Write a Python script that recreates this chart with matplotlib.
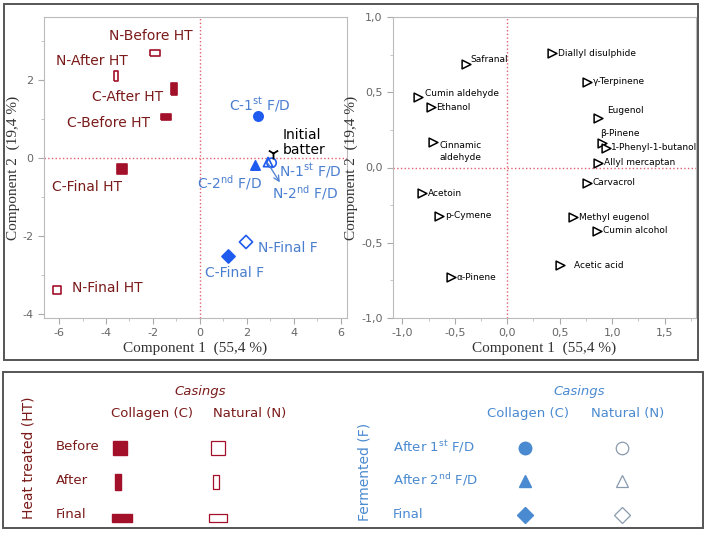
import matplotlib
matplotlib.use("Agg")
import matplotlib.pyplot as plt
from matplotlib.patches import Rectangle
from matplotlib.ticker import FuncFormatter, MultipleLocator

# ---- score plot data (Component 1 / Component 2) ----
ht_names = ["C-Before HT", "N-Before HT", "C-After HT", "N-After HT", "C-Final HT", "N-Final HT"]
ht_x = [-1.45, -1.91, -1.11, -3.57, -3.32, -6.09]
ht_y = [1.05, 2.69, 1.77, 2.10, -0.28, -3.38]

f_names = ["C-1st F/D", "N-1st F/D", "C-2nd F/D", "N-2nd F/D", "C-Final F", "N-Final F"]
f_x = [2.45, 3.05, 2.35, 2.90, 1.18, 1.96]
f_y = [1.08, -0.12, -0.18, -0.10, -2.51, -2.15]

batter_x = [3.10]
batter_y = [0.13]

# ---- loading plot data ----
compounds = ["Safranal", "Diallyl disulphide", "γ-Terpinene", "Cumin aldehyde", "Ethanol",
             "Eugenol", "β-Pinene", "1-Phenyl-1-butanol", "Cinnamic\naldehyde",
             "Allyl mercaptan", "Carvacrol", "Acetoin", "p-Cymene", "Methyl eugenol",
             "Cumin alcohol", "Acetic acid", "α-Pinene"]
load_x = [-0.39, 0.43, 0.76, -0.85, -0.73, 0.87, 0.90, 0.94, -0.71,
          0.87, 0.76, -0.81, -0.65, 0.63, 0.86, 0.50, -0.54]
load_y = [0.69, 0.76, 0.57, 0.47, 0.40, 0.33, 0.16, 0.13, 0.17,
          0.03, -0.10, -0.17, -0.32, -0.33, -0.42, -0.65, -0.73]

RED_TXT = "#7a1a1a"
RED = "#a3102a"
BLUE = "#1f5bef"
BLUE_TXT = "#4a7fd0"
LBLUE = "#4a8ad0"
LGREY = "#8a9aae"

wide = [(-1, -0.55), (1, -0.55), (1, 0.55), (-1, 0.55), (-1, -0.55)]
tall = [(-0.45, -1), (0.45, -1), (0.45, 1), (-0.45, 1), (-0.45, -1)]
flat = [(-1, -0.4), (1, -0.4), (1, 0.4), (-1, 0.4), (-1, -0.4)]

plt.rcParams["font.family"] = "DejaVu Sans"
plt.rcParams["mathtext.default"] = "regular"

fig = plt.figure(figsize=(7.09, 5.4), dpi=100)

# outer frames
fig.patches.append(Rectangle((4 / 709, 1 - 360 / 540), 694 / 709, 356 / 540, transform=fig.transFigure,
                             fill=False, edgecolor="#555555", linewidth=1.4))
fig.patches.append(Rectangle((3 / 709, 1 - 528 / 540), 700 / 709, 156 / 540, transform=fig.transFigure,
                             fill=False, edgecolor="#555555", linewidth=1.4))


def comma(v, pos, nd):
    return f"{v:.{nd}f}".replace(".", ",")


def style_axes(ax):
    for s in ax.spines.values():
        s.set_color("#bbbbbb")
    ax.tick_params(colors="#aaaaaa", labelcolor="#666666", labelsize=8, direction="out", length=4)
    ax.tick_params(which="minor", colors="#bbbbbb", length=2)
    ax.axhline(0, color="#e06070", linestyle=":", linewidth=1)
    ax.axvline(0, color="#e06070", linestyle=":", linewidth=1)
    ax.set_xlabel("Component 1  (55,4 %)", family="Liberation Serif", fontsize=11, color="#333333", labelpad=2)
    ax.set_ylabel("Component 2  (19,4 %)", family="Liberation Serif", fontsize=11, color="#333333", labelpad=2)


# ---------------- score plot ----------------
ax1 = fig.add_axes([44 / 709, 1 - 318 / 540, 303 / 709, 301 / 540])
style_axes(ax1)
ax1.set_xlim(-6.64, 6.26)
ax1.set_ylim(-4.1, 3.62)
ax1.xaxis.set_major_locator(MultipleLocator(2))
ax1.xaxis.set_minor_locator(MultipleLocator(1))
ax1.yaxis.set_major_locator(MultipleLocator(2))
ax1.yaxis.set_minor_locator(MultipleLocator(1))
ax1.xaxis.set_major_formatter(FuncFormatter(lambda v, p: f"{v:.0f}"))
ax1.yaxis.set_major_formatter(FuncFormatter(lambda v, p: f"{v:.0f}"))

ht_marks = [wide, wide, tall, tall, "s", "s"]
ht_sizes = [60, 55, 70, 55, 50, 40]
for i in range(len(ht_names)):
    filled = ht_names[i].startswith("C")
    ax1.scatter(ht_x[i], ht_y[i], marker=ht_marks[i], s=ht_sizes[i],
                facecolor=RED if filled else "white", edgecolor=RED, linewidth=1.2, zorder=3)

f_marks = ["o", "o", "^", "^", "D", "D"]
for i in range(len(f_names)):
    filled = f_names[i].startswith("C")
    ax1.scatter(f_x[i], f_y[i], marker=f_marks[i], s=45,
                facecolor=BLUE if filled else "none", edgecolor=BLUE, linewidth=1.2, zorder=3)

ax1.scatter(batter_x, batter_y, marker="1", s=70, color="black", linewidth=1.3, zorder=4)

# labels of the score plot
ht_lab = {"C-Before HT": (-3.9, 0.90), "N-Before HT": (-2.09, 3.13), "C-After HT": (-3.1, 1.56),
          "N-After HT": (-4.6, 2.49), "C-Final HT": (-4.8, -0.74), "N-Final HT": (-3.95, -3.33)}
for name, (tx, ty) in ht_lab.items():
    ax1.text(tx, ty, name, color=RED_TXT, fontsize=10, ha="center", va="center")

f_lab = {"C-1st F/D": (2.55, 1.36, "C-1$^{st}$ F/D"), "N-1st F/D": (4.68, -0.33, "N-1$^{st}$ F/D"),
         "C-2nd F/D": (1.28, -0.62, "C-2$^{nd}$ F/D"), "N-2nd F/D": (4.47, -0.87, "N-2$^{nd}$ F/D"),
         "C-Final F": (1.49, -2.95, "C-Final F"), "N-Final F": (3.74, -2.31, "N-Final F")}
for name, (tx, ty, s) in f_lab.items():
    ax1.text(tx, ty, s, color=BLUE_TXT, fontsize=10, ha="center", va="center")

ax1.text(3.53, 0.41, "Initial\nbatter", color="black", fontsize=10, ha="left", va="center", linespacing=1.1)
ax1.annotate("", xy=(3.4, -0.62), xytext=(2.9, -0.14),
             arrowprops=dict(arrowstyle="->", color=BLUE_TXT, lw=0.9, shrinkA=0, shrinkB=0))

# ---------------- loading plot ----------------
ax2 = fig.add_axes([393 / 709, 1 - 318 / 540, 303 / 709, 301 / 540])
style_axes(ax2)
ax2.set_xlim(-1.09, 1.8)
ax2.set_ylim(-1.0, 1.0)
ax2.xaxis.set_major_locator(MultipleLocator(0.5))
ax2.xaxis.set_minor_locator(MultipleLocator(0.25))
ax2.yaxis.set_major_locator(MultipleLocator(0.5))
ax2.yaxis.set_minor_locator(MultipleLocator(0.25))
ax2.xaxis.set_major_formatter(FuncFormatter(lambda v, p: comma(v, p, 1)))
ax2.yaxis.set_major_formatter(FuncFormatter(lambda v, p: comma(v, p, 1)))

ax2.scatter(load_x, load_y, marker=">", s=40, facecolor="white", edgecolor="black", linewidth=1.1, zorder=3)

offsets = {"Safranal": (3, 3), "Eugenol": (6, 5), "β-Pinene": (-1, 7), "Acetic acid": (10, 0),
           "Cumin aldehyde": (5, 2)}
for name, x, y in zip(compounds, load_x, load_y):
    dx, dy = offsets.get(name, (4, 0))
    if name.startswith("Cinnamic"):
        ax2.annotate(name, (x, y), xytext=(5, -7), textcoords="offset points", fontsize=6.5,
                     ha="left", va="center", multialignment="center", linespacing=1.5)
        continue
    ax2.annotate(name, (x, y), xytext=(dx, dy), textcoords="offset points", fontsize=6.5,
                 ha="left", va="center")

# ---------------- legend box ----------------
def fx(px):
    return px / 709


def fy(py):
    return 1 - py / 540


fs = 9.5
# heat treated half
fig.text(fx(29), fy(458), "Heat treated (HT)", rotation=90, color=RED_TXT, fontsize=10, ha="center", va="center")
fig.text(fx(200), fy(392), "Casings", color=RED_TXT, fontsize=fs, style="italic", ha="center", va="center")
fig.text(fx(152), fy(414), "Collagen (C)", color=RED_TXT, fontsize=fs, ha="center", va="center")
fig.text(fx(250), fy(414), "Natural (N)", color=RED_TXT, fontsize=fs, ha="center", va="center")
leg_ht_rows = ["Before", "After", "Final"]
row_y = [447, 480, 514]
for lab, py in zip(leg_ht_rows, row_y):
    fig.text(fx(56), fy(py), lab, color=RED_TXT, fontsize=fs, ha="left", va="center")
fig.add_artist(plt.Line2D([fx(120)], [fy(448)], marker="s", markersize=10, color=RED, transform=fig.transFigure))
fig.add_artist(plt.Line2D([fx(218)], [fy(448)], marker="s", markersize=10, markerfacecolor="white",
                          markeredgecolor=RED, markeredgewidth=0.9, transform=fig.transFigure))
fig.add_artist(plt.Line2D([fx(118)], [fy(482)], marker=tall, markersize=11, color=RED, transform=fig.transFigure))
fig.add_artist(plt.Line2D([fx(216)], [fy(482)], marker=tall, markersize=10, markerfacecolor="white",
                          markeredgecolor=RED, markeredgewidth=0.9, transform=fig.transFigure))
fig.add_artist(plt.Line2D([fx(122)], [fy(518)], marker=flat, markersize=14, color=RED, transform=fig.transFigure))
fig.add_artist(plt.Line2D([fx(218)], [fy(518)], marker=flat, markersize=13, markerfacecolor="white",
                          markeredgecolor=RED, markeredgewidth=0.9, transform=fig.transFigure))

# fermented half
fig.text(fx(365), fy(472), "Fermented (F)", rotation=90, color=LBLUE, fontsize=10, ha="center", va="center")
fig.text(fx(579), fy(392), "Casings", color=LBLUE, fontsize=fs, style="italic", ha="center", va="center")
fig.text(fx(528), fy(414), "Collagen (C)", color=LBLUE, fontsize=fs, ha="center", va="center")
fig.text(fx(628), fy(414), "Natural (N)", color=LBLUE, fontsize=fs, ha="center", va="center")
leg_f_rows = ["After 1$^{st}$ F/D", "After 2$^{nd}$ F/D", "Final"]
leg_f_marks = ["o", "^", "D"]
for lab, mk, py in zip(leg_f_rows, leg_f_marks, row_y):
    fig.text(fx(393), fy(py), lab, color=LBLUE, fontsize=fs, ha="left", va="center")
    fig.add_artist(plt.Line2D([fx(525)], [fy(py + 1)], marker=mk, markersize=9 if mk != "D" else 8,
                              color=LBLUE, transform=fig.transFigure))
    fig.add_artist(plt.Line2D([fx(622)], [fy(py + 1)], marker=mk, markersize=9 if mk != "D" else 8,
                              markerfacecolor="white", markeredgecolor=LGREY, markeredgewidth=0.9,
                              transform=fig.transFigure))

fig.savefig("out.png", dpi=100)
